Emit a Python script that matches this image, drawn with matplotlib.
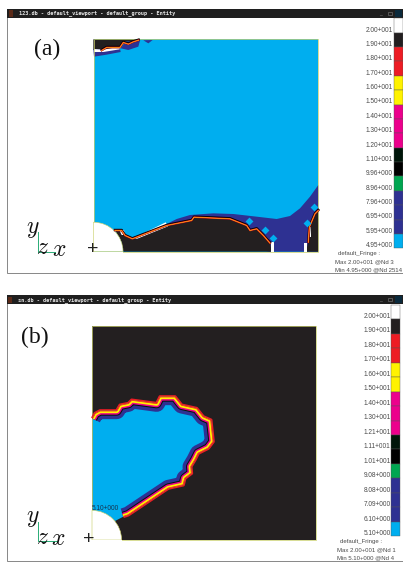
#!/usr/bin/env python3
"""Two fringe plot screenshots, (a) and (b), stacked on one page."""
import matplotlib

matplotlib.use("Agg")
import matplotlib.pyplot as plt
from matplotlib.patches import Polygon, Rectangle, Wedge
import numpy as np

plt.rcParams["mathtext.fontset"] = "cm"

W_PX, H_PX = 403, 562
CYAN = "#00aeef"
DARK = "#231f20"
NAVY = "#2e3192"
RED = "#ed1c24"
YELLOW = "#fff200"
MAGENTA = "#ec008c"
GREEN = "#00a651"
EDGE = "#c9cf6a"
BAR_COLORS = [
    "#ffffff", DARK, RED, RED, YELLOW, YELLOW, MAGENTA, MAGENTA, MAGENTA,
    "#00160a", "#000000", GREEN, NAVY, NAVY, NAVY, CYAN,
]

# outlines are read at 3x zoom: (x, y) relative to the panel's zoom crop
TOP_DARK_A = [(280, 118), (418, 118), (405, 125), (375, 125), (362, 142), (310, 150), (280, 150)]
TOP_NAVY_A = [(280, 148), (360, 146), (362, 156), (320, 164), (282, 170)]
TOP_NAVY2_A = [(362, 145), (378, 125), (420, 122), (415, 140), (385, 150)]
TOP_NAVY3_A = [(430, 121), (458, 120), (445, 130)]
TOP_WHITE_A = [(282, 147), (310, 149), (358, 140), (359, 148), (310, 156), (282, 156)]
TOP_LINE_A = [(305, 150), (320, 141), (360, 141), (370, 126), (385, 131), (400, 124), (416, 119)]
LOW_NAVY_A = [
    (955, 555), (930, 590), (900, 625), (870, 648), (830, 657), (770, 650), (700, 642),
    (640, 640), (570, 645), (530, 657), (500, 672), (500, 705), (810, 755), (955, 755),
]
LOW_DARK_A = [
    (345, 690), (365, 690), (375, 705), (397, 715), (500, 675), (575, 660), (582, 650),
    (690, 655), (740, 675), (750, 690), (770, 685), (790, 705), (810, 728), (815, 755),
    (370, 755), (364, 725),
]
RIGHT_DARK_A = [(918, 755), (925, 725), (928, 680), (945, 640), (955, 630), (955, 755)]
WHITE_WEDGE_A = [(397, 716), (497, 667), (504, 679), (412, 716)]
WHITE_BITS_A = [
    [(812, 727), (822, 727), (822, 755), (812, 755)],
    [(913, 728), (922, 728), (922, 755), (913, 755)],
    [(923, 680), (933, 680), (933, 710), (923, 710)],
    [(358, 690), (372, 690), (375, 705), (365, 705)],
]
DIAMONDS_A = [(747, 662), (795, 690), (819, 715), (922, 668), (942, 620)]
BLOB_B = [
    (277, 400), (285, 385), (300, 377), (350, 377), (360, 360), (385, 355), (395, 345),
    (470, 355), (480, 335), (525, 335), (545, 360), (590, 370), (610, 395), (633, 405),
    (640, 470), (625, 490), (595, 505), (585, 525), (573, 545), (575, 565), (555, 580),
    (550, 600), (505, 610), (385, 690), (370, 695), (345, 708), (300, 690), (277, 678),
]

LABELS_A = ["2.00+001", "1.90+001", "1.80+001", "1.70+001", "1.60+001", "1.50+001", "1.40+001",
            "1.30+001", "1.20+001", "1.10+001", "9.96+000", "8.96+000", "7.96+000", "6.95+000",
            "5.95+000", "4.95+000"]
LABELS_B = ["2.00+001", "1.90+001", "1.80+001", "1.70+001", "1.60+001", "1.50+001", "1.40+001",
            "1.30+001", "1.21+001", "1.11+001", "1.01+001", "9.08+000", "8.08+000", "7.09+000",
            "6.10+000", "5.10+000"]


def pts(outline, y0):
    return np.asarray(outline, dtype=float) / 3.0 + [0.0, y0]


def px(width):
    return width * 0.72


def draw_window(ax, title, left, top, bar_bottom, bottom, title_y):
    ax.add_patch(Rectangle((left, top), W_PX - left, bottom - top, fc="white", ec="#8a8a8a", lw=px(1)))
    ax.add_patch(Rectangle((left, top), W_PX - left, bar_bottom - top, fc="#1f1f1f", ec="none"))
    ax.add_patch(Rectangle((left + 1.5, top + 1.5), 4, bar_bottom - top - 3, fc="#5a2a18", ec="none"))
    ax.add_patch(Rectangle((395, top + 1), 7, bar_bottom - top - 2, fc="#0b2a3c", ec="none"))
    ax.text(left + 12, title_y, title, color="#e8e8e8", fontsize=3.75, family="DejaVu Sans Mono",
            weight="bold", ha="left", va="center")
    ax.text(380, title_y, "_", color="#888888", fontsize=4, ha="center", va="center")
    ax.add_patch(Rectangle((388, title_y - 2), 3.5, 3.5, fc="none", ec="#777777", lw=px(0.6)))


def draw_bar(ax, labels, x0, x1, y_edges, y_labels, x_text):
    edges = np.linspace(y_edges[0], y_edges[1], len(BAR_COLORS) + 1)
    for i, color in enumerate(BAR_COLORS):
        ax.add_patch(Rectangle((x0, edges[i]), x1 - x0, edges[i + 1] - edges[i],
                               fc=color, ec="#555555", lw=px(0.4)))
    for label, y in zip(labels, np.linspace(y_labels[0], y_labels[1], len(labels))):
        ax.text(x_text, y, label, fontsize=4.7, color="#4a4a4a", ha="right", va="center",
                family="Liberation Sans")


def draw_triad(ax, corner, top_y, right_x, y_pos, z_pos, x_pos):
    ax.plot([corner[0], corner[0], right_x], [top_y, corner[1], corner[1]], color="#2fae7a", lw=px(1))
    for label, pos in (("$y$", y_pos), ("$z$", z_pos), ("$x$", x_pos)):
        ax.text(pos[0], pos[1], label, fontsize=17, color="#111111", ha="center", va="center")


def draw_footer(ax, lines, xs, ys):
    for line, x, y in zip(lines, xs, ys):
        ax.text(x, y, line, fontsize=4.3, color="#4a4a4a", ha="left", va="center", family="Liberation Sans")


def contour(ax, line):
    ax.plot(line[:, 0], line[:, 1], color="#000000", lw=px(2.4), solid_joinstyle="round")
    ax.plot(line[:, 0], line[:, 1] + 0.5, color=RED, lw=px(1.6), solid_joinstyle="round")
    ax.plot(line[:, 0], line[:, 1] + 0.5, color="#ffc20e", lw=px(0.6), solid_joinstyle="round")


def panel_a(ax):
    draw_window(ax, "123.db - default_viewport - default_group - Entity", 7, 8.5, 18, 273, 13.5)
    left, top, right, bottom = 93.5, 39.3, 318.3, 251.7
    ax.add_patch(Rectangle((left, top), right - left, bottom - top, fc=CYAN, ec="none"))
    ax.add_patch(Polygon(pts(LOW_NAVY_A, 0), fc=NAVY, ec="none"))
    ax.add_patch(Polygon(pts(LOW_DARK_A, 0), fc=DARK, ec="none"))
    ax.add_patch(Polygon(pts(RIGHT_DARK_A, 0), fc=DARK, ec="none"))
    ax.add_patch(Polygon(pts(TOP_DARK_A, 0), fc=DARK, ec="none"))
    for shape in (TOP_NAVY_A, TOP_NAVY2_A, TOP_NAVY3_A):
        ax.add_patch(Polygon(pts(shape, 0), fc=NAVY, ec="none"))
    contour(ax, pts(LOW_DARK_A[:13], 0))
    contour(ax, pts(RIGHT_DARK_A[1:5], 0))
    contour(ax, pts(TOP_LINE_A, 0))
    ax.add_patch(Polygon(pts(TOP_WHITE_A, 0), fc="white", ec="none"))
    ax.add_patch(Polygon(pts(WHITE_WEDGE_A, 0), fc="white", ec="none"))
    for bit in WHITE_BITS_A:
        ax.add_patch(Polygon(pts(bit, 0), fc="white", ec="none"))
    d = pts(DIAMONDS_A, 0)
    ax.scatter(d[:, 0], d[:, 1], marker="D", s=16, color=CYAN, linewidths=0, zorder=3)
    ax.add_patch(Rectangle((left, top), right - left, bottom - top, fc="none", ec=EDGE, lw=px(0.7)))
    ax.add_patch(Wedge((left, bottom), 29.5, 270, 360, fc="white", ec=EDGE, lw=px(0.6)))
    ax.add_patch(Rectangle((left - 1, bottom - 0.2), 30, 2, fc="white", ec="none"))
    ax.text(47, 49.5, "(a)", fontsize=17, family="Liberation Serif", ha="center", va="center", color="#111111")
    ax.text(93, 249, "+", fontsize=14, family="Liberation Sans", ha="center", va="center", color="#222222")
    draw_triad(ax, (38, 252), 232, 55, (33, 228), (43, 247), (59, 249))
    draw_bar(ax, LABELS_A, 393.5, 402.5, (18.3, 248.3), (30, 245.7), 392.8)
    draw_footer(ax, ["default_Fringe :", "Max 2.00+001 @Nd 3", "Min 4.95+000 @Nd 2514"],
                [338, 335, 335], [253, 261.5, 270])


def panel_b(ax):
    y0 = 285.0
    draw_window(ax, "sn.db - default_viewport - default_group - Entity", 6.5, 295, 304, 561, 299.7)
    left, top, right, bottom = 92.0, 325.7, 316.3, 540.0
    ax.add_patch(Rectangle((left, top), right - left, bottom - top, fc=DARK, ec="none"))
    blob = pts(BLOB_B, y0)
    edge = blob[:-3]

    # outer band first, then the clipped inner bands on top of the cyan fill
    ax.plot(edge[:, 0], edge[:, 1], color=RED, lw=px(3.0), solid_joinstyle="round", solid_capstyle="butt")
    patch = Polygon(blob, fc=CYAN, ec="none")
    ax.add_patch(patch)
    for color, width in ((NAVY, 17.0), ("#00160a", 10.0), (MAGENTA, 8.0), (YELLOW, 5.0), (RED, 1.4)):
        band, = ax.plot(edge[:, 0], edge[:, 1], color=color, lw=px(width), solid_joinstyle="round",
                        solid_capstyle="butt")
        band.set_clip_path(patch)

    ax.add_patch(Rectangle((left, top), right - left, bottom - top, fc="none", ec=EDGE, lw=px(0.7)))
    ax.add_patch(Wedge((left, bottom), 29.6, 270, 360, fc="white", ec=EDGE, lw=px(0.6)))
    ax.add_patch(Rectangle((left - 1, bottom - 0.2), 31, 2, fc="white", ec="none"))
    ax.text(left - 0.5, 509, "5.10+000", fontsize=4.7, color="#16324f", ha="left", va="center",
            family="Liberation Sans")
    ax.text(34.5, 337, "(b)", fontsize=17, family="Liberation Serif", ha="center", va="center", color="#111111")
    ax.text(89, 539, "+", fontsize=14, family="Liberation Sans", ha="center", va="center", color="#222222")
    draw_triad(ax, (38, 541), 522, 57, (33, 517), (43, 537), (58, 538))
    draw_bar(ax, LABELS_B, 391, 400, (305, 536), (316.3, 533.7), 390.6)
    draw_footer(ax, ["default_Fringe :", "Max 2.00+001 @Nd 1", "Min 5.10+000 @Nd 4"],
                [340, 337, 337], [541.7, 549.7, 558])


def main():
    fig = plt.figure(figsize=(W_PX / 100, H_PX / 100), dpi=100)
    ax = fig.add_axes([0, 0, 1, 1])
    ax.set_xlim(0, W_PX)
    ax.set_ylim(H_PX, 0)
    ax.axis("off")
    panel_a(ax)
    panel_b(ax)
    fig.savefig("out.png", dpi=100)
    plt.close(fig)


if __name__ == "__main__":
    main()
